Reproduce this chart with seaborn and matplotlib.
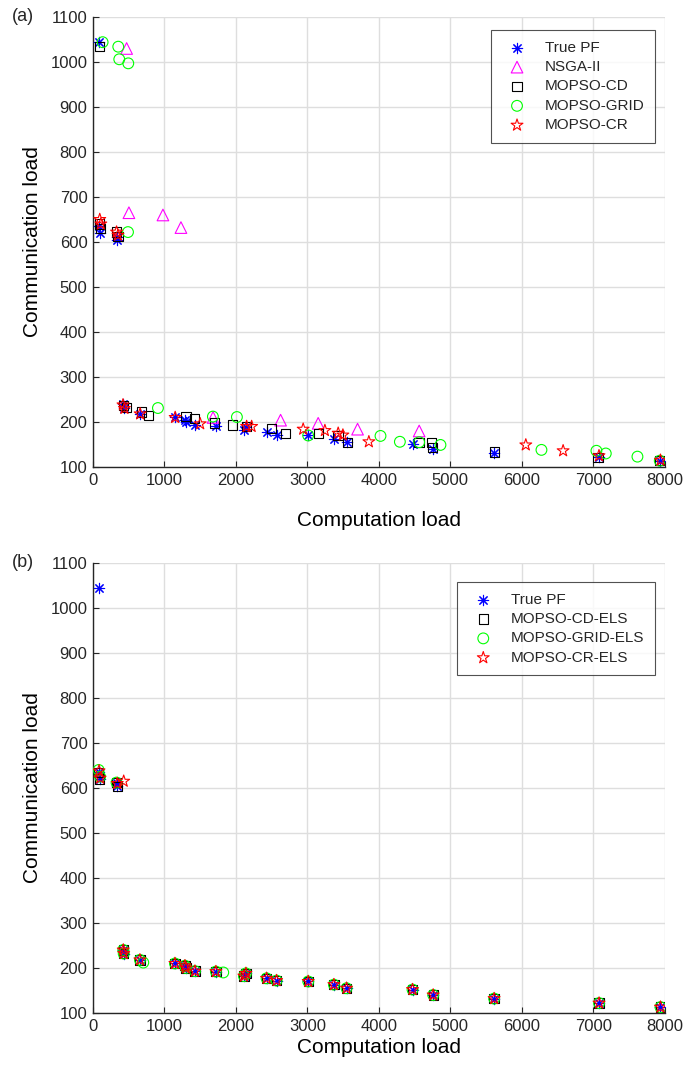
import matplotlib
matplotlib.use("Agg")
import matplotlib.pyplot as plt
import seaborn as sns

sns.set_theme(style="whitegrid")
plt.rcParams['font.family'] = ['Liberation Sans', 'DejaVu Sans']

# ---------------- Panel (a) data ----------------
true_a_x = [88, 80, 95, 330, 340, 424, 430, 657, 1147, 1287, 1300, 1427, 1720, 2112, 2140,
            2429, 2569, 3012, 3371, 3548, 4471, 4760, 5613, 7081, 7940]
true_a_y = [1045, 635, 620, 612, 604, 240, 232, 218, 210, 205, 200, 193, 192, 182, 188,
            177, 172, 170, 163, 155, 152, 140, 132, 122, 113]

nsga_x = [471, 503, 979, 1231, 1680, 2625, 3151, 3702, 4564]
nsga_y = [1030, 665, 660, 632, 210, 204, 197, 184, 180]

cd_x = [88, 90, 105, 330, 350, 430, 470, 680, 780, 1300, 1420, 1700, 1950, 2150, 2499,
        2695, 3151, 3430, 3557, 4560, 4737, 4751, 5622, 7067, 7930]
cd_y = [1034, 640, 630, 622, 612, 237, 232, 222, 215, 212, 208, 198, 193, 190, 185,
        175, 174, 170, 155, 155, 155, 143, 133, 121, 114]

grid_x = [135, 354, 368, 494, 490, 909, 1678, 2014, 3011, 4023, 4294, 4564, 4862,
          6275, 7044, 7175, 7618, 7930]
grid_y = [1044, 1034, 1006, 997, 622, 231, 212, 211, 170, 169, 156, 155, 149,
          138, 136, 130, 123, 114]

cr_x = [95, 110, 330, 350, 420, 440, 660, 1150, 1500, 2150, 2220, 2941, 3245, 3431,
        3497, 3860, 6056, 6578, 7080, 7940]
cr_y = [650, 640, 622, 615, 238, 230, 218, 210, 196, 190, 190, 184, 181, 175,
        171, 156, 149, 136, 125, 115]

# ---------------- Panel (b) data ----------------
true_b_x = [88, 80, 95, 330, 340, 424, 430, 657, 1147, 1287, 1300, 1427, 1720, 2112, 2140,
            2429, 2569, 3012, 3371, 3548, 4471, 4760, 5613, 7081, 7940]
true_b_y = [1045, 635, 620, 612, 604, 240, 232, 218, 210, 205, 200, 193, 192, 182, 188,
            177, 172, 170, 163, 155, 152, 140, 132, 122, 113]

cdels_x = [80, 95, 330, 340, 424, 430, 657, 1147, 1287, 1300, 1427, 1720, 2112, 2140,
           2429, 2569, 3012, 3371, 3548, 4471, 4760, 5613, 7081, 7940]
cdels_y = [635, 620, 612, 604, 240, 232, 218, 210, 205, 200, 193, 192, 182, 188,
           177, 172, 170, 163, 155, 152, 140, 132, 122, 113]

gridels_x = [80, 100, 330, 424, 430, 657, 704, 1147, 1287, 1300, 1427, 1720, 1823, 2112,
             2140, 2429, 2569, 3012, 3371, 3548, 4471, 4760, 5613, 7081, 7940]
gridels_y = [640, 625, 612, 240, 232, 218, 212, 210, 205, 200, 193, 192, 190, 182,
             188, 177, 172, 170, 163, 155, 152, 140, 132, 122, 113]

crels_x = [85, 100, 340, 430, 424, 430, 657, 1147, 1287, 1300, 1427, 1720, 2112, 2140,
           2429, 2569, 3012, 3371, 3548, 4471, 4760, 5613, 7081, 7940]
crels_y = [638, 622, 610, 615, 240, 232, 218, 210, 205, 200, 193, 192, 182, 188,
           177, 172, 170, 163, 155, 152, 140, 132, 122, 113]

x_ticks = [0, 1000, 2000, 3000, 4000, 5000, 6000, 7000, 8000]
y_ticks = [100, 200, 300, 400, 500, 600, 700, 800, 900, 1000, 1100]

ASTER = (8, 2, 0)
S = 55
LW = 0.8

fig = plt.figure(figsize=(6.99, 10.75), dpi=100)
ax1 = fig.add_axes([0.133, 0.5656, 0.818, 0.4186])
ax2 = fig.add_axes([0.133, 0.0577, 0.818, 0.4186])


def pts(ax, x, y, marker, color, label, hollow=True, s=S):
    if hollow:
        sns.scatterplot(x=x, y=y, ax=ax, marker=marker, s=s, facecolor='none',
                        edgecolor=color, linewidth=LW, label=label, zorder=3)
    else:
        sns.scatterplot(x=x, y=y, ax=ax, marker=marker, s=s, color=color,
                        linewidth=LW, label=label, zorder=3)


pts(ax1, true_a_x, true_a_y, ASTER, '#0000ff', 'True PF', hollow=False)
pts(ax1, nsga_x, nsga_y, '^', '#ff00ff', 'NSGA-II', s=70)
pts(ax1, cd_x, cd_y, 's', '#000000', 'MOPSO-CD', s=45)
pts(ax1, grid_x, grid_y, 'o', '#00ff00', 'MOPSO-GRID', s=60)
pts(ax1, cr_x, cr_y, '*', '#ff0000', 'MOPSO-CR', s=80)

pts(ax2, true_b_x, true_b_y, ASTER, '#0000ff', 'True PF', hollow=False)
pts(ax2, cdels_x, cdels_y, 's', '#000000', 'MOPSO-CD-ELS', s=45)
pts(ax2, gridels_x, gridels_y, 'o', '#00ff00', 'MOPSO-GRID-ELS', s=60)
pts(ax2, crels_x, crels_y, '*', '#ff0000', 'MOPSO-CR-ELS', s=80)

for ax, tag, top, xpad in [(ax1, '(a)', 0.972, 17), (ax2, '(b)', 0.4586, 3)]:
    ax.set_xlim(0, 8000)
    ax.set_ylim(100, 1100)
    ax.set_xticks(x_ticks)
    ax.set_yticks(y_ticks)
    ax.grid(True, color='#dedede', linewidth=1.0)
    ax.set_facecolor('white')
    for side in ['top', 'right']:
        ax.spines[side].set_visible(False)
    for side in ['left', 'bottom']:
        ax.spines[side].set_visible(True)
        ax.spines[side].set_color('#262626')
        ax.spines[side].set_linewidth(1.0)
    ax.tick_params(axis='both', direction='in', length=4, width=0.8, colors='#262626',
                   labelsize=12, pad=4, bottom=True, left=True)
    ax.set_xlabel('Computation load', fontsize=15, color='#000000', labelpad=xpad)
    ax.set_ylabel('Communication load', fontsize=15, color='#000000', labelpad=6)
    leg = ax.legend(loc='upper right', bbox_to_anchor=(0.937, top),
                    bbox_transform=fig.transFigure, fancybox=False, frameon=True,
                    edgecolor='#262626', fontsize=11, borderpad=0.7,
                    handletextpad=0.8, labelspacing=0.35, borderaxespad=0)
    leg.get_frame().set_linewidth(0.8)
    bb = ax.get_position()
    fig.text(0.017, bb.y1, tag, fontsize=13, va='center', ha='left')

fig.savefig('out.png', dpi=100)
